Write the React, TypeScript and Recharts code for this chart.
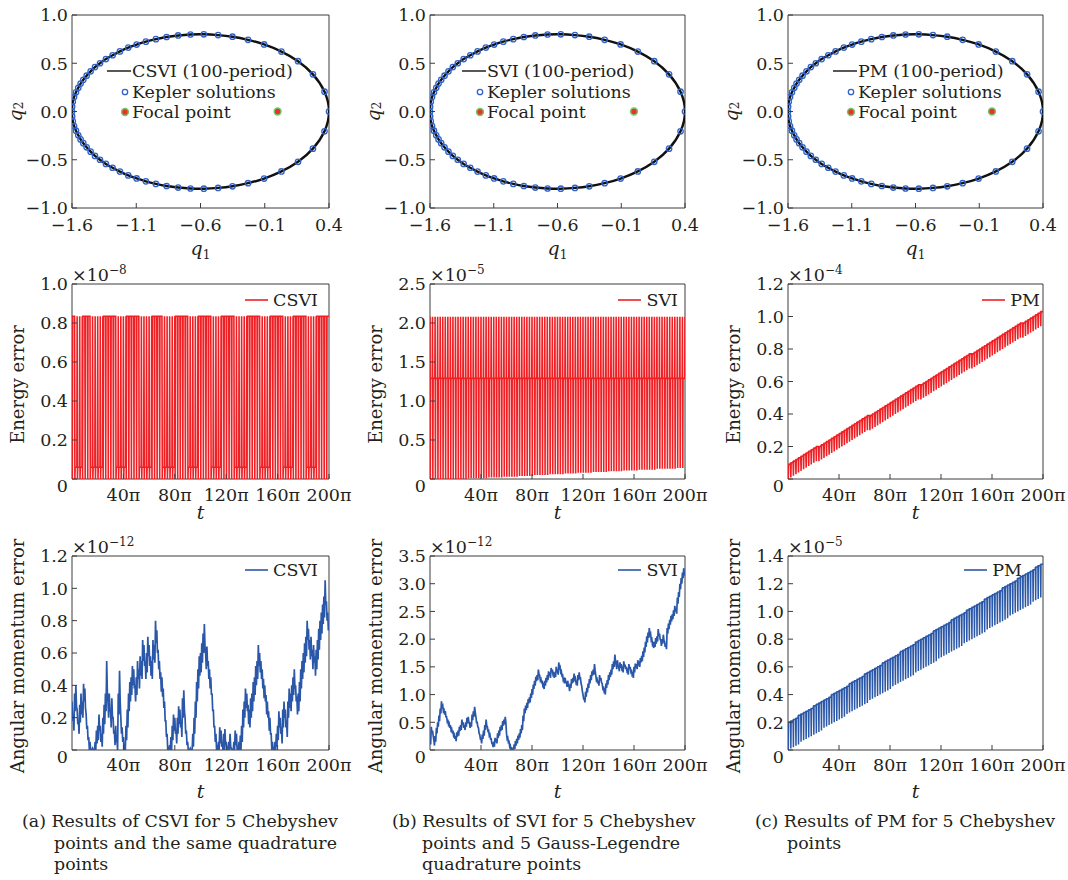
import React from 'react';
import { ComposedChart, LineChart, Line, Scatter, XAxis, YAxis, ReferenceArea, Legend } from 'recharts';

const FONT = '"DejaVu Serif", serif';
const INK = '#231f20';
const FRAME = '#3c3c3c';
const RED = '#ef1f24';
const BLUE = '#2a57a8';
const KEPLER_BLUE = '#2f62c8';
const FOCAL_RED = '#e8322a';
const FOCAL_GREEN = '#79c46a';
const TICK_SIZE = 17.5;
const TITLE_SIZE = 18;

// Kepler reference orbit, equal-time samples (starts and ends at the apocentre)
const keplerQ1 = [
  -1.6, -1.599, -1.594, -1.584, -1.569, -1.551, -1.533, -1.512, -1.486, -1.455, -1.421, -1.382, -1.336, -1.284,
  -1.227, -1.162, -1.097, -1.025, -0.947, -0.864, -0.774, -0.678, -0.574, -0.463, -0.351, -0.23, -0.105, 0.03,
  0.159, 0.275, 0.365, 0.4, 0.365, 0.275, 0.159, 0.03, -0.105, -0.23, -0.351, -0.463, -0.574, -0.678, -0.774,
  -0.864, -0.947, -1.025, -1.097, -1.162, -1.227, -1.284, -1.336, -1.382, -1.421, -1.455, -1.486, -1.512, -1.533,
  -1.551, -1.569, -1.584, -1.594, -1.599,
];
const keplerQ2 = [
  0.0, -0.05, -0.1, -0.15, -0.199, -0.246, -0.289, -0.328, -0.371, -0.416, -0.46, -0.5, -0.543, -0.583,
  -0.623, -0.662, -0.694, -0.724, -0.75, -0.772, -0.788, -0.798, -0.8, -0.792, -0.775, -0.743, -0.695, -0.621,
  -0.521, -0.385, -0.205, 0.0, 0.205, 0.385, 0.521, 0.621, 0.695, 0.743, 0.775, 0.792, 0.8, 0.798, 0.788,
  0.772, 0.75, 0.724, 0.694, 0.662, 0.623, 0.583, 0.543, 0.5, 0.46, 0.416, 0.371, 0.328, 0.289,
  0.246, 0.199, 0.15, 0.1, 0.05,
];
const focalQ1 = [0.0];
const focalQ2 = [0.0];

const q1Ticks = [-1.6, -1.1, -0.6, -0.1, 0.4];
const q2Ticks = [-1.0, -0.5, 0.0, 0.5, 1.0];
const tTicks = [40, 80, 120, 160, 200]; // multiples of pi

// Energy error, one value per orbital period (100 periods)
const csviEnergyPeak = 0.835;
const csviEnergyTrough = 0.0;
const H = 0.835;
const S = 0.06;
const csviEnergyRest = [
  H, S, S, S, H, H, H, S, S, S, S, S, H, H, H, H, H, S, S, S, S, H, H, H, H, H, S, S, S, S,
  S, H, H, H, H, S, S, S, S, S, H, H, H, H, H, S, S, S, S, H, H, H, H, H, S, S, S, S, H, H,
  H, H, H, S, S, S, S, S, H, H, H, H, H, S, S, S, S, H, H, H, H, H, S, S, S, S, H, H, H, H,
  H, S, S, S, S, H, H, H, H, H,
];

const sviEnergyPeak = 2.08;
const sviEnergyRest = 1.29;
const sviEnergyTrough = [
  0, 0, 0, 0, 0, 0, 0, 0, 0, 0,
  0, 0, 0, 0, 0, 0.01, 0.01, 0.01, 0.01, 0.01,
  0.01, 0.01, 0.01, 0.02, 0.02, 0.02, 0.02, 0.02, 0.02, 0.03,
  0.03, 0.03, 0.03, 0.03, 0.03, 0.04, 0.04, 0.04, 0.04, 0.04,
  0.04, 0.05, 0.05, 0.05, 0.05, 0.05, 0.05, 0.06, 0.06, 0.06,
  0.06, 0.06, 0.06, 0.07, 0.07, 0.07, 0.07, 0.07, 0.08, 0.08,
  0.08, 0.08, 0.08, 0.08, 0.09, 0.09, 0.09, 0.09, 0.09, 0.09,
  0.1, 0.1, 0.1, 0.1, 0.1, 0.1, 0.11, 0.11, 0.11, 0.11,
  0.11, 0.11, 0.12, 0.12, 0.12, 0.12, 0.12, 0.12, 0.12, 0.13,
  0.13, 0.13, 0.13, 0.13, 0.13, 0.13, 0.13, 0.14, 0.14, 0.14,
];

const pmEnergyPeak = [
  0.09, 0.1, 0.11, 0.12, 0.13, 0.14, 0.15, 0.16, 0.17, 0.18,
  0.19, 0.2, 0.2, 0.21, 0.22, 0.23, 0.24, 0.25, 0.26, 0.27,
  0.28, 0.29, 0.3, 0.31, 0.32, 0.33, 0.34, 0.35, 0.36, 0.37,
  0.38, 0.39, 0.39, 0.4, 0.41, 0.42, 0.43, 0.44, 0.45, 0.46,
  0.47, 0.48, 0.49, 0.5, 0.51, 0.52, 0.53, 0.54, 0.55, 0.56,
  0.57, 0.58, 0.58, 0.59, 0.6, 0.61, 0.62, 0.63, 0.64, 0.65,
  0.66, 0.67, 0.68, 0.69, 0.7, 0.71, 0.72, 0.73, 0.74, 0.75,
  0.76, 0.77, 0.77, 0.78, 0.79, 0.8, 0.81, 0.82, 0.83, 0.84,
  0.85, 0.86, 0.87, 0.88, 0.89, 0.9, 0.91, 0.92, 0.93, 0.94,
  0.95, 0.96, 0.96, 0.97, 0.98, 0.99, 1.0, 1.01, 1.02, 1.03,
];
const pmEnergyTrough = [
  0.0, 0.01, 0.02, 0.03, 0.04, 0.05, 0.06, 0.07, 0.08, 0.09,
  0.1, 0.11, 0.11, 0.12, 0.13, 0.14, 0.15, 0.16, 0.17, 0.18,
  0.19, 0.2, 0.21, 0.22, 0.23, 0.24, 0.25, 0.26, 0.27, 0.28,
  0.29, 0.3, 0.3, 0.31, 0.32, 0.33, 0.34, 0.35, 0.36, 0.37,
  0.38, 0.39, 0.4, 0.41, 0.42, 0.43, 0.44, 0.45, 0.46, 0.47,
  0.48, 0.49, 0.49, 0.5, 0.51, 0.52, 0.53, 0.54, 0.55, 0.56,
  0.57, 0.58, 0.59, 0.6, 0.61, 0.62, 0.63, 0.64, 0.65, 0.66,
  0.67, 0.68, 0.68, 0.69, 0.7, 0.71, 0.72, 0.73, 0.74, 0.75,
  0.76, 0.77, 0.78, 0.79, 0.8, 0.81, 0.82, 0.83, 0.84, 0.85,
  0.86, 0.87, 0.87, 0.88, 0.89, 0.9, 0.91, 0.92, 0.93, 0.94,
];

// Angular momentum error, PM: one value per period
const pmAngularPeak = [
  0.2, 0.21, 0.22, 0.23, 0.25, 0.26, 0.27, 0.28, 0.29, 0.3,
  0.32, 0.33, 0.34, 0.35, 0.36, 0.37, 0.38, 0.4, 0.41, 0.42,
  0.43, 0.44, 0.45, 0.46, 0.48, 0.49, 0.5, 0.51, 0.52, 0.53,
  0.55, 0.56, 0.57, 0.58, 0.59, 0.6, 0.61, 0.63, 0.64, 0.65,
  0.66, 0.67, 0.68, 0.69, 0.71, 0.72, 0.73, 0.74, 0.75, 0.76,
  0.78, 0.79, 0.8, 0.81, 0.82, 0.83, 0.84, 0.86, 0.87, 0.88,
  0.89, 0.9, 0.91, 0.92, 0.94, 0.95, 0.96, 0.97, 0.98, 0.99,
  1.01, 1.02, 1.03, 1.04, 1.05, 1.06, 1.07, 1.09, 1.1, 1.11,
  1.12, 1.13, 1.14, 1.15, 1.17, 1.18, 1.19, 1.2, 1.21, 1.22,
  1.24, 1.25, 1.26, 1.27, 1.28, 1.29, 1.3, 1.32, 1.33, 1.34,
];
const pmAngularTrough = [
  0.0, 0.01, 0.02, 0.03, 0.04, 0.06, 0.07, 0.08, 0.09, 0.1,
  0.11, 0.12, 0.13, 0.14, 0.16, 0.17, 0.18, 0.19, 0.2, 0.21,
  0.22, 0.23, 0.24, 0.26, 0.27, 0.28, 0.29, 0.3, 0.31, 0.32,
  0.33, 0.34, 0.36, 0.37, 0.38, 0.39, 0.4, 0.41, 0.42, 0.43,
  0.44, 0.46, 0.47, 0.48, 0.49, 0.5, 0.51, 0.52, 0.53, 0.54,
  0.56, 0.57, 0.58, 0.59, 0.6, 0.61, 0.62, 0.63, 0.64, 0.66,
  0.67, 0.68, 0.69, 0.7, 0.71, 0.72, 0.73, 0.74, 0.75, 0.77,
  0.78, 0.79, 0.8, 0.81, 0.82, 0.83, 0.84, 0.85, 0.87, 0.88,
  0.89, 0.9, 0.91, 0.92, 0.93, 0.94, 0.95, 0.97, 0.98, 0.99,
  1.0, 1.01, 1.02, 1.03, 1.04, 1.05, 1.07, 1.08, 1.09, 1.1,
];

// Angular momentum error, CSVI and SVI: upper edge of the noisy trace every pi (0..200pi),
// and the lower edge half a step later
const csviAngular = [
  0.3, 0.22, 0.35, 0.4, 0.25, 0.18, 0.28, 0.35, 0.3, 0.41, 0.38, 0.22, 0.15, 0.08, 0.05, 0.0, 0.01, 0.0, 0.05, 0.12,
  0.15, 0.22, 0.15, 0.1, 0.2, 0.28, 0.35, 0.55, 0.3, 0.35, 0.25, 0.32, 0.2, 0.12, 0.15, 0.06, 0.35, 0.49, 0.2, 0.14,
  0.08, 0.04, 0.15, 0.25, 0.35, 0.42, 0.45, 0.52, 0.5, 0.4, 0.45, 0.55, 0.5, 0.58, 0.55, 0.68, 0.65, 0.55, 0.6, 0.7,
  0.65, 0.58, 0.55, 0.68, 0.65, 0.8, 0.74, 0.62, 0.55, 0.48, 0.45, 0.38, 0.3, 0.18, 0.1, 0.0, 0.03, 0.08, 0.15, 0.22,
  0.2, 0.12, 0.2, 0.27, 0.25, 0.18, 0.32, 0.37, 0.2, 0.12, 0.05, 0.0, 0.01, 0.0, 0.1, 0.2, 0.3, 0.42, 0.5, 0.58,
  0.6, 0.66, 0.72, 0.78, 0.6, 0.64, 0.55, 0.5, 0.45, 0.35, 0.25, 0.15, 0.1, 0.03, 0.05, 0.14, 0.12, 0.04, 0.1, 0.13,
  0.05, 0.0, 0.05, 0.1, 0.01, 0.0, 0.05, 0.12, 0.1, 0.02, 0.05, 0.09, 0.15, 0.25, 0.3, 0.38, 0.35, 0.28, 0.25, 0.32,
  0.35, 0.42, 0.45, 0.52, 0.55, 0.65, 0.6, 0.55, 0.5, 0.44, 0.4, 0.34, 0.3, 0.24, 0.2, 0.1, 0.05, 0.0, 0.05, 0.1,
  0.15, 0.24, 0.2, 0.14, 0.25, 0.3, 0.25, 0.18, 0.3, 0.38, 0.35, 0.4, 0.45, 0.5, 0.4, 0.33, 0.35, 0.42, 0.5, 0.55,
  0.6, 0.66, 0.7, 0.8, 0.75, 0.68, 0.7, 0.62, 0.65, 0.58, 0.62, 0.68, 0.75, 0.8, 0.85, 0.9, 0.95, 1.05, 0.92, 0.85,
  0.78,
];
const csviAngularLow = [
  0.18, 0.12, 0.24, 0.27, 0.16, 0.1, 0.17, 0.22, 0.2, 0.3, 0.26, 0.13, 0.06, 0.0, 0.0, 0.0, 0.0, 0.0, 0.0, 0.04,
  0.06, 0.12, 0.05, 0.02, 0.1, 0.16, 0.24, 0.36, 0.2, 0.24, 0.14, 0.2, 0.1, 0.03, 0.05, 0.0, 0.22, 0.3, 0.1, 0.05,
  0.0, 0.0, 0.06, 0.14, 0.24, 0.3, 0.34, 0.4, 0.38, 0.3, 0.34, 0.44, 0.38, 0.46, 0.44, 0.55, 0.52, 0.44, 0.48, 0.58,
  0.52, 0.46, 0.44, 0.56, 0.54, 0.66, 0.6, 0.5, 0.44, 0.36, 0.33, 0.26, 0.18, 0.08, 0.0, 0.0, 0.0, 0.0, 0.06, 0.12,
  0.1, 0.04, 0.1, 0.16, 0.14, 0.08, 0.2, 0.24, 0.1, 0.03, 0.0, 0.0, 0.0, 0.0, 0.02, 0.1, 0.2, 0.3, 0.38, 0.46,
  0.48, 0.54, 0.6, 0.64, 0.5, 0.52, 0.44, 0.38, 0.34, 0.24, 0.14, 0.05, 0.0, 0.0, 0.0, 0.04, 0.02, 0.0, 0.0, 0.03,
  0.0, 0.0, 0.0, 0.02, 0.0, 0.0, 0.0, 0.03, 0.0, 0.0, 0.0, 0.0, 0.05, 0.14, 0.2, 0.26, 0.24, 0.16, 0.14, 0.2,
  0.24, 0.3, 0.34, 0.4, 0.44, 0.52, 0.48, 0.44, 0.38, 0.32, 0.3, 0.22, 0.2, 0.12, 0.1, 0.0, 0.0, 0.0, 0.0, 0.02,
  0.06, 0.14, 0.1, 0.04, 0.14, 0.2, 0.14, 0.08, 0.2, 0.26, 0.24, 0.3, 0.34, 0.38, 0.3, 0.22, 0.24, 0.3, 0.38, 0.44,
  0.48, 0.54, 0.58, 0.68, 0.62, 0.56, 0.58, 0.5, 0.54, 0.46, 0.5, 0.56, 0.62, 0.68, 0.72, 0.78, 0.82, 0.9, 0.8, 0.74,
];
const sviAngular = [
  0.2, 0.42, 0.35, 0.18, 0.25, 0.4, 0.5, 0.62, 0.75, 0.88, 0.8, 0.72, 0.7, 0.6, 0.55, 0.48, 0.45, 0.38, 0.35, 0.28,
  0.25, 0.32, 0.35, 0.42, 0.45, 0.55, 0.5, 0.45, 0.5, 0.58, 0.6, 0.48, 0.5, 0.64, 0.7, 0.78, 0.6, 0.5, 0.4, 0.28,
  0.2, 0.28, 0.35, 0.45, 0.55, 0.42, 0.35, 0.28, 0.2, 0.12, 0.15, 0.22, 0.2, 0.3, 0.35, 0.42, 0.45, 0.52, 0.55, 0.6,
  0.3, 0.22, 0.15, 0.08, 0.05, 0.0, 0.1, 0.16, 0.2, 0.26, 0.3, 0.38, 0.45, 0.62, 0.75, 0.8, 0.85, 0.92, 0.95, 1.02,
  1.1, 1.18, 1.25, 1.32, 1.35, 1.45, 1.35, 1.28, 1.25, 1.18, 1.25, 1.3, 1.35, 1.42, 1.4, 1.48, 1.45, 1.38, 1.4, 1.5,
  1.45, 1.58, 1.5, 1.42, 1.35, 1.28, 1.3, 1.22, 1.25, 1.15, 1.2, 1.28, 1.3, 1.38, 1.3, 1.25, 1.35, 1.4, 1.3, 1.15,
  1.0, 0.92, 1.05, 1.12, 1.2, 1.28, 1.35, 1.42, 1.45, 1.55, 1.35, 1.28, 1.25, 1.35, 1.3, 1.2, 1.15, 1.08, 1.2, 1.26,
  1.35, 1.4, 1.45, 1.55, 1.6, 1.72, 1.55, 1.62, 1.5, 1.58, 1.55, 1.48, 1.6, 1.54, 1.5, 1.44, 1.55, 1.5, 1.45, 1.38,
  1.5, 1.56, 1.55, 1.62, 1.6, 1.66, 1.7, 1.78, 1.85, 1.95, 2.05, 2.12, 2.2, 2.1, 2.0, 1.92, 1.95, 2.02, 2.05, 2.18,
  2.1, 1.98, 2.0, 2.08, 1.95, 1.9, 2.2, 2.28, 2.35, 2.42, 2.45, 2.52, 2.6, 2.55, 2.75, 2.85, 3.0, 3.1, 3.2, 3.28,
  3.15,
];
const sviAngularLow = [
  0.1, 0.3, 0.26, 0.08, 0.15, 0.3, 0.42, 0.52, 0.66, 0.78, 0.7, 0.64, 0.6, 0.52, 0.46, 0.4, 0.36, 0.3, 0.26, 0.2,
  0.16, 0.24, 0.26, 0.34, 0.36, 0.46, 0.4, 0.36, 0.42, 0.48, 0.5, 0.4, 0.42, 0.54, 0.6, 0.68, 0.5, 0.42, 0.3, 0.2,
  0.12, 0.2, 0.26, 0.36, 0.44, 0.34, 0.26, 0.2, 0.12, 0.05, 0.06, 0.14, 0.12, 0.22, 0.26, 0.34, 0.36, 0.44, 0.46, 0.5,
  0.2, 0.14, 0.06, 0.0, 0.0, 0.0, 0.02, 0.08, 0.12, 0.18, 0.22, 0.3, 0.36, 0.52, 0.66, 0.72, 0.76, 0.84, 0.86, 0.94,
  1.0, 1.1, 1.16, 1.24, 1.26, 1.36, 1.26, 1.2, 1.16, 1.1, 1.16, 1.22, 1.26, 1.34, 1.3, 1.4, 1.36, 1.3, 1.32, 1.4,
  1.36, 1.48, 1.4, 1.34, 1.26, 1.2, 1.22, 1.14, 1.16, 1.06, 1.12, 1.2, 1.22, 1.28, 1.22, 1.16, 1.26, 1.3, 1.2, 1.06,
  0.92, 0.86, 0.96, 1.04, 1.12, 1.2, 1.26, 1.34, 1.36, 1.44, 1.26, 1.2, 1.16, 1.26, 1.22, 1.12, 1.06, 1.0, 1.12, 1.18,
  1.26, 1.32, 1.36, 1.46, 1.5, 1.6, 1.46, 1.52, 1.42, 1.48, 1.46, 1.4, 1.5, 1.46, 1.42, 1.36, 1.46, 1.42, 1.36, 1.3,
  1.4, 1.48, 1.46, 1.52, 1.5, 1.58, 1.6, 1.68, 1.76, 1.86, 1.94, 2.02, 2.08, 1.98, 1.9, 1.84, 1.86, 1.92, 1.96, 2.06,
  2.0, 1.88, 1.92, 1.98, 1.86, 1.82, 2.1, 2.18, 2.26, 2.32, 2.36, 2.42, 2.5, 2.46, 2.64, 2.76, 2.9, 3.0, 3.1, 3.18,
];

type Level = number | number[];
const at = (v: Level, k: number) => (Array.isArray(v) ? v[k] : v);

// One period = quick dip from the peak to the trough, then the resting level until the next period
function periodRows(peak: Level, trough: Level, rest: Level) {
  const rows: { t: number; v: number }[] = [];
  for (let k = 0; k < 100; k++) {
    const t = 2 * k;
    rows.push({ t, v: at(peak, k) });
    rows.push({ t: t + 0.25, v: at(trough, k) });
    rows.push({ t: t + 0.45, v: at(rest, k) });
    rows.push({ t: t + 1.8, v: at(rest, k) });
  }
  rows.push({ t: 200, v: at(peak, 99) });
  return rows;
}

// Upper samples at whole steps, lower samples half a step later
function bandRows(upper: number[], lower: number[]) {
  const rows: { t: number; v: number }[] = [];
  upper.forEach((v, i) => {
    rows.push({ t: i, v });
    if (i < lower.length) rows.push({ t: i + 0.5, v: lower[i] });
  });
  return rows;
}

const keplerData = keplerQ1.map((q1, i) => ({ q1, q2: keplerQ2[i] }));
const orbitData = [...keplerData, keplerData[0]];
const focalData = focalQ1.map((q1, i) => ({ q1, q2: focalQ2[i] }));

const COLS = [
  { left: 0, width: 356, plotWidth: 257 },
  { left: 358, width: 356, plotWidth: 255 },
  { left: 716, width: 352, plotWidth: 255 },
];
const ROWS = [
  { top: 0, height: 266, plotTop: 15, plotHeight: 193, tickGap: 23, titleGap: 47, legendTop: 0 },
  { top: 262, height: 267, plotTop: 22, plotHeight: 195, tickGap: 22, titleGap: 40, legendTop: 28 },
  { top: 534, height: 272, plotTop: 22, plotHeight: 194, tickGap: 21, titleGap: 48, legendTop: 26 },
];
const PLOT_LEFT = 72;

const minus = (s: string) => s.replace('-', '\u2212');
const fmtOne = (v: number) => minus(v.toFixed(1));
const fmtZeroOne = (v: number) => (v === 0 ? '0' : v.toFixed(1));
const fmtPi = (v: number) => `${v}\u03c0`;

const textProps = { fontFamily: FONT, fontSize: TICK_SIZE, fill: INK };

const bottomTick = (fmt: (v: number) => string, gap: number) => (props: any) => {
  const { x, y, payload } = props;
  return (
    <g>
      <line x1={x} x2={x} y1={y} y2={y - 5} stroke={FRAME} />
      <text x={x} y={y + gap} textAnchor="middle" {...textProps}>
        {fmt(payload.value)}
      </text>
    </g>
  );
};

const leftTick = (fmt: (v: number) => string, zeroDrop: number) => (props: any) => {
  const { x, y, payload } = props;
  const drop = payload.value === 0 ? zeroDrop : 0;
  return (
    <g>
      <line x1={x} x2={x + 5} y1={y} y2={y} stroke={FRAME} />
      <text x={x - 4} y={y + drop} dy="0.36em" textAnchor="end" {...textProps}>
        {fmt(payload.value)}
      </text>
    </g>
  );
};

const layout = (col: (typeof COLS)[number], row: (typeof ROWS)[number]) => ({
  width: col.width,
  height: row.height,
  margin: { top: row.plotTop, right: col.width - PLOT_LEFT - col.plotWidth, left: 0, bottom: 0 },
  xAxisHeight: row.height - row.plotTop - row.plotHeight,
});

const OrbitLegend = ({ method }: { method: string }) => (
  <div style={{ fontFamily: FONT, fontSize: TICK_SIZE, color: INK, lineHeight: '20.5px', whiteSpace: 'nowrap' }}>
    <div style={{ display: 'flex', alignItems: 'center' }}>
      <svg width={25} height={12}>
        <line x1={0} x2={24} y1={6} y2={6} stroke="#111" strokeWidth={1.4} />
      </svg>
      <span>{method} (100-period)</span>
    </div>
    <div style={{ display: 'flex', alignItems: 'center' }}>
      <svg width={25} height={12}>
        <circle cx={18} cy={6} r={2.7} fill="none" stroke={KEPLER_BLUE} strokeWidth={1.3} />
      </svg>
      <span>Kepler solutions</span>
    </div>
    <div style={{ display: 'flex', alignItems: 'center' }}>
      <svg width={25} height={12}>
        <circle cx={18} cy={6} r={3.4} fill={FOCAL_RED} stroke={FOCAL_GREEN} strokeWidth={1.5} />
      </svg>
      <span>Focal point</span>
    </div>
  </div>
);

const SeriesLegend = ({ name, color }: { name: string; color: string }) => (
  <div
    style={{
      display: 'flex',
      justifyContent: 'flex-end',
      alignItems: 'center',
      fontFamily: FONT,
      fontSize: TICK_SIZE,
      color: INK,
      lineHeight: '20px',
    }}
  >
    <svg width={26} height={10}>
      <line x1={1} x2={24} y1={5} y2={5} stroke={color} strokeWidth={1.6} />
    </svg>
    <span style={{ marginLeft: 3 }}>{name}</span>
  </div>
);

function OrbitPanel({ colIndex, method, legendLeft }: { colIndex: number; method: string; legendLeft: number }) {
  const col = COLS[colIndex];
  const row = ROWS[0];
  const l = layout(col, row);
  const cx = PLOT_LEFT + col.plotWidth / 2;
  const midY = row.plotTop + row.plotHeight / 2;
  const yTitle = () => (
    <text x={15} y={midY} transform={`rotate(-90 15 ${midY})`} textAnchor="middle" dominantBaseline="central" {...textProps} fontSize={TITLE_SIZE + 1}>
      <tspan fontStyle="italic">q</tspan>
      <tspan fontSize={12} dy={4}>2</tspan>
    </text>
  );
  const xTitle = () => (
    <text x={cx} y={row.plotTop + row.plotHeight + row.titleGap} textAnchor="middle" {...textProps} fontSize={TITLE_SIZE + 1}>
      <tspan fontStyle="italic">q</tspan>
      <tspan fontSize={12} dy={4}>1</tspan>
    </text>
  );
  return (
    <div style={{ position: 'absolute', left: col.left, top: row.top }}>
      <ComposedChart width={l.width} height={l.height} margin={l.margin}>
        <XAxis
          dataKey="q1"
          type="number"
          domain={[-1.6, 0.4]}
          ticks={q1Ticks}
          interval={0}
          allowDataOverflow
          height={l.xAxisHeight}
          axisLine={false}
          tickLine={false}
          tickSize={0}
          tickMargin={0}
          tick={bottomTick(fmtOne, row.tickGap)}
          label={{ content: xTitle }}
        />
        <YAxis
          dataKey="q2"
          type="number"
          domain={[-1, 1]}
          ticks={q2Ticks}
          interval={0}
          allowDataOverflow
          width={PLOT_LEFT}
          axisLine={false}
          tickLine={false}
          tickSize={0}
          tickMargin={0}
          tick={leftTick(fmtOne, 0)}
          label={{ content: yTitle }}
        />
        <ReferenceArea x1={-1.6} x2={0.4} y1={-1} y2={1} fill="none" stroke={FRAME} strokeWidth={1} />
        <Line data={orbitData} dataKey="q2" type="natural" stroke="#111" strokeWidth={2.4} dot={false} isAnimationActive={false} />
        <Scatter
          data={keplerData}
          dataKey="q2"
          isAnimationActive={false}
          shape={(p: any) => <circle cx={p.cx} cy={p.cy} r={2.7} fill="none" stroke={KEPLER_BLUE} strokeWidth={1.3} />}
        />
        <Scatter
          data={focalData}
          dataKey="q2"
          isAnimationActive={false}
          shape={(p: any) => <circle cx={p.cx} cy={p.cy} r={3.4} fill={FOCAL_RED} stroke={FOCAL_GREEN} strokeWidth={1.5} />}
        />
        <Legend
          verticalAlign="middle"
          align="center"
          layout="horizontal"
          content={() => <OrbitLegend method={method} />}
          wrapperStyle={{ left: legendLeft, top: 61, width: 230, height: 62 }}
        />
      </ComposedChart>
    </div>
  );
}

type SeriesProps = {
  colIndex: number;
  rowIndex: number;
  rows: { t: number; v: number }[];
  color: string;
  strokeWidth: number;
  yMax: number;
  yTicks: number[];
  exponent: string;
  yTitleText: string;
  name: string;
  legendPad: number;
};

function SeriesPanel(p: SeriesProps) {
  const col = COLS[p.colIndex];
  const row = ROWS[p.rowIndex];
  const l = layout(col, row);
  const midY = row.plotTop + row.plotHeight / 2 + 3;
  const yTitle = () => (
    <g>
      <text x={17} y={midY} transform={`rotate(-90 17 ${midY})`} textAnchor="middle" dominantBaseline="central" {...textProps} fontSize={TITLE_SIZE}>
        {p.yTitleText}
      </text>
      <text x={PLOT_LEFT} y={row.plotTop - 3} {...textProps}>
        {'\u00d710'}
        <tspan fontSize={12} dy={-7}>
          {p.exponent}
        </tspan>
      </text>
    </g>
  );
  const xTitle = () => (
    <text x={PLOT_LEFT + col.plotWidth / 2} y={row.plotTop + row.plotHeight + row.titleGap} textAnchor="middle" {...textProps} fontSize={TITLE_SIZE + 1} fontStyle="italic">
      t
    </text>
  );
  return (
    <div style={{ position: 'absolute', left: col.left, top: row.top }}>
      <LineChart width={l.width} height={l.height} margin={l.margin} data={p.rows}>
        <XAxis
          dataKey="t"
          type="number"
          domain={[0, 200]}
          ticks={tTicks}
          interval={0}
          allowDataOverflow
          height={l.xAxisHeight}
          axisLine={false}
          tickLine={false}
          tickSize={0}
          tickMargin={0}
          tick={bottomTick(fmtPi, row.tickGap)}
          label={{ content: xTitle }}
        />
        <YAxis
          type="number"
          domain={[0, p.yMax]}
          ticks={p.yTicks}
          interval={0}
          allowDataOverflow
          width={PLOT_LEFT}
          axisLine={false}
          tickLine={false}
          tickSize={0}
          tickMargin={0}
          tick={leftTick(fmtZeroOne, 7)}
          label={{ content: yTitle }}
        />
        <ReferenceArea x1={0} x2={200} y1={0} y2={p.yMax} fill="none" stroke={FRAME} strokeWidth={1} />
        <Line dataKey="v" type="linear" stroke={p.color} strokeWidth={p.strokeWidth} dot={false} isAnimationActive={false} />
        <Legend
          verticalAlign="middle"
          align="center"
          layout="horizontal"
          content={() => <SeriesLegend name={p.name} color={p.color} />}
          wrapperStyle={{ left: PLOT_LEFT, top: row.legendTop, width: col.plotWidth - p.legendPad, height: 20 }}
        />
      </LineChart>
    </div>
  );
}

const captionStyle: React.CSSProperties = {
  position: 'absolute',
  top: 811,
  fontFamily: FONT,
  fontSize: 17.4,
  lineHeight: '21.5px',
  color: INK,
  whiteSpace: 'nowrap',
};

export default function App() {
  return (
    <div style={{ position: 'absolute', left: 0, top: 0, width: 1068, height: 880, background: '#fff', overflow: 'hidden' }}>
      <OrbitPanel colIndex={0} method="CSVI" legendLeft={107} />
      <OrbitPanel colIndex={1} method="SVI" legendLeft={104} />
      <OrbitPanel colIndex={2} method="PM" legendLeft={117} />

      <SeriesPanel
        colIndex={0} rowIndex={1} rows={periodRows(csviEnergyPeak, csviEnergyTrough, csviEnergyRest)}
        color={RED} strokeWidth={1.6} yMax={1.0} yTicks={[0, 0.2, 0.4, 0.6, 0.8, 1.0]}
        exponent={'\u22128'} yTitleText="Energy error" name="CSVI" legendPad={11}
      />
      <SeriesPanel
        colIndex={1} rowIndex={1} rows={periodRows(sviEnergyPeak, sviEnergyTrough, sviEnergyRest)}
        color={RED} strokeWidth={1.6} yMax={2.5} yTicks={[0, 0.5, 1.0, 1.5, 2.0, 2.5]}
        exponent={'\u22125'} yTitleText="Energy error" name="SVI" legendPad={7}
      />
      <SeriesPanel
        colIndex={2} rowIndex={1} rows={periodRows(pmEnergyPeak, pmEnergyTrough, pmEnergyPeak)}
        color={RED} strokeWidth={1.6} yMax={1.2} yTicks={[0, 0.2, 0.4, 0.6, 0.8, 1.0, 1.2]}
        exponent={'\u22124'} yTitleText="Energy error" name="PM" legendPad={3}
      />

      <SeriesPanel
        colIndex={0} rowIndex={2} rows={bandRows(csviAngular, csviAngularLow)}
        color={BLUE} strokeWidth={1.7} yMax={1.2} yTicks={[0, 0.2, 0.4, 0.6, 0.8, 1.0, 1.2]}
        exponent={'\u221212'} yTitleText="Angular momentum error" name="CSVI" legendPad={11}
      />
      <SeriesPanel
        colIndex={1} rowIndex={2} rows={bandRows(sviAngular, sviAngularLow)}
        color={BLUE} strokeWidth={1.7} yMax={3.5} yTicks={[0, 0.5, 1.0, 1.5, 2.0, 2.5, 3.0, 3.5]}
        exponent={'\u221212'} yTitleText="Angular momentum error" name="SVI" legendPad={7}
      />
      <SeriesPanel
        colIndex={2} rowIndex={2} rows={periodRows(pmAngularPeak, pmAngularTrough, pmAngularPeak)}
        color={BLUE} strokeWidth={1.5} yMax={1.4} yTicks={[0, 0.2, 0.4, 0.6, 0.8, 1.0, 1.2, 1.4]}
        exponent={'\u22125'} yTitleText="Angular momentum error" name="PM" legendPad={21}
      />

      <div style={{ ...captionStyle, left: 22 }}>
        (a) Results of CSVI for 5 Chebyshev
        <br />
        <span style={{ paddingLeft: 32 }}>points and the same quadrature</span>
        <br />
        <span style={{ paddingLeft: 32 }}>points</span>
      </div>
      <div style={{ ...captionStyle, left: 392 }}>
        (b) Results of SVI for 5 Chebyshev
        <br />
        <span style={{ paddingLeft: 30 }}>points and 5 Gauss-Legendre</span>
        <br />
        <span style={{ paddingLeft: 30 }}>quadrature points</span>
      </div>
      <div style={{ ...captionStyle, left: 755 }}>
        (c) Results of PM for 5 Chebyshev
        <br />
        <span style={{ paddingLeft: 32 }}>points</span>
      </div>
    </div>
  );
}
